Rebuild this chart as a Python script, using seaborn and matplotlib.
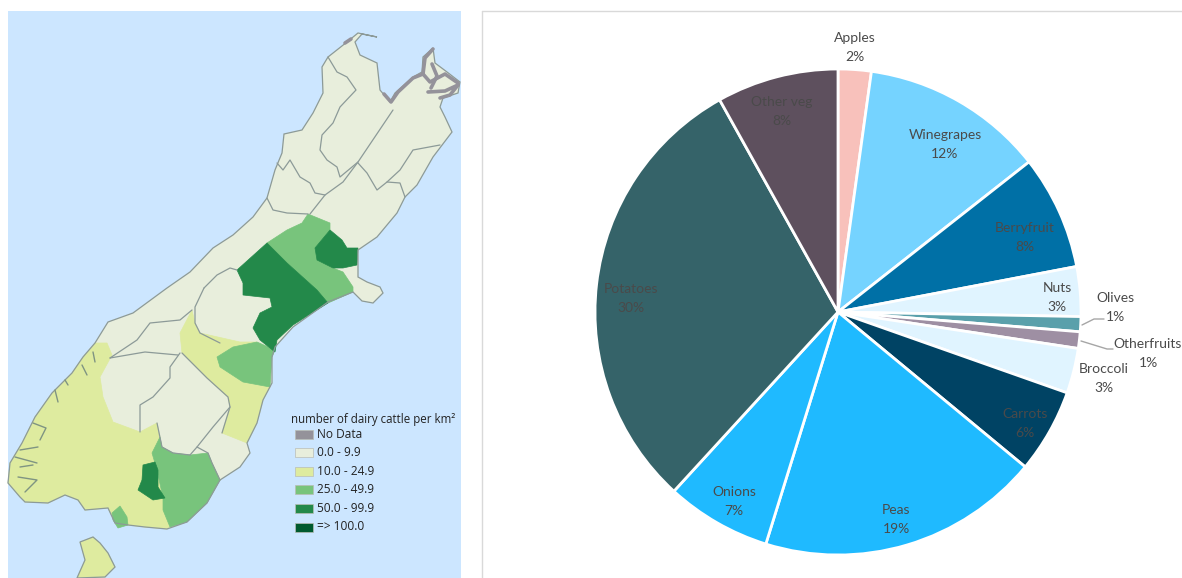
import matplotlib
matplotlib.use("Agg")
import matplotlib.pyplot as plt
from matplotlib.patches import Rectangle, Polygon
import seaborn as sns

# ---- pie data
crops = ["Apples", "Winegrapes", "Berryfruit", "Nuts", "Olives", "Otherfruits",
         "Broccoli", "Carrots", "Peas", "Onions", "Potatoes", "Other veg"]
shares = [2.2, 12.2, 7.6, 3.3, 1.0, 1.1, 3.0, 5.6, 18.8, 7.0, 30.1, 8.1]
share_labels = ["2%", "12%", "8%", "3%", "1%", "1%", "3%", "6%", "19%", "7%", "30%", "8%"]
crop_colors = ["#f8c1bb", "#75d3ff", "#0070a6", "#e0f4ff", "#5aa0ab", "#9e8fa3",
               "#e0f4ff", "#004364", "#1fbaff", "#1fbaff", "#356369", "#5e505e"]
label_xy = [(855, 38), (945, 135), (1025, 228), (1057, 288), (1115, 298), (1148, 344),
            (1104, 369), (1025, 414), (896, 510), (734, 492), (631, 289), (782, 102)]

# ---- legend data
legend_title = "number of dairy cattle per km\u00b2"
legend_names = ["No Data", "0.0 - 9.9", "10.0 - 24.9", "25.0 - 49.9", "50.0 - 99.9", "=> 100.0"]
legend_colors = ["#94929a", "#e8eedc", "#deeb9f", "#78c47c", "#23894a", "#005a2f"]
SEA, PALE, YEL, MID, DARK = "#cce6ff", legend_colors[1], legend_colors[2], legend_colors[3], legend_colors[4]
LINE = "#8c9a98"

# ---- map outlines, traced in picture pixels
coast = [(377,37),(358,33),(347,42),(328,57),(322,67),(323,93),(313,113),(302,130),(284,134),(282,153),
 (275,170),(267,198),(253,217),(233,235),(213,248),(190,272),(167,288),(133,313),(108,322),(95,343),
 (83,357),(72,373),(52,393),(35,417),(22,443),(10,463),(8,483),(20,497),(25,502),(48,503),(65,495),
 (78,500),(85,510),(108,508),(115,523),(128,525),(145,527),(167,529),(187,522),(207,503),(220,480),
 (240,467),(250,453),(247,443),(257,423),(263,400),(272,383),(272,357),(275,347),(293,327),(328,302),
 (353,292),(362,301),(373,303),(383,293),(380,287),(367,282),(358,277),(358,250),(377,237),(397,213),
 (405,197),(417,185),(433,157),(452,132),(445,117),(440,107),(443,98),(458,93),(460,82),(447,72),
 (435,63),(433,48),(423,57),(422,72),(413,77),(395,93),(390,102),(380,90),(377,63),(360,55),(355,42),(362,34)]
stewart = [(80,542),(93,537),(100,543),(108,553),(115,567),(105,577),(77,578),(85,560)]
sounds = [[(384,94),(391,102),(398,92),(413,78),(423,74)],
          [(423,74),(425,58),(433,49)],
          [(423,74),(430,82),(445,74),(458,83)],
          [(428,92),(445,91),(458,85),(450,95),(440,98)],
          [(432,64),(437,76),(431,88)],
          [(345,43),(351,39)]]
southland = [(107,343),(112,355),(100,377),(103,397),(113,422),(140,432),(157,423),(160,437),(152,453),
 (163,498),(163,510),(170,527),(167,529),(145,527),(128,525),(115,523),(108,508),(85,510),(78,500),(65,495),
 (48,503),(25,502),(20,497),(8,483),(10,463),(22,443),(35,417),(52,393),(72,373),(83,357),(95,343)]
waitaki = [(192,310),(180,333),(182,353),(207,378),(228,397),(230,407),(222,433),(247,443),(257,423),
 (263,400),(270,387),(243,382),(220,367),(217,357),(233,347),(257,342),(240,342),(200,333),(195,323)]
clutha = [(160,437),(152,453),(157,470),(163,498),(163,510),(170,527),(187,522),(207,503),(220,480),
 (212,463),(208,453),(190,455),(173,453),(162,447)]
timaru = [(257,342),(233,347),(217,357),(220,367),(243,382),(270,387),(272,357),(275,350)]
band = [(308,214),(330,223),(330,230),(315,248),(317,260),(333,268),(343,272),(353,287),(353,292),(328,303),
 (317,290),(287,263),(267,243),(287,230),(302,223)]
hurunui = [(330,230),(342,240),(347,248),(358,248),(357,265),(343,268),(333,268),(317,260),(315,248)]
selwyn = [(267,243),(237,270),(243,283),(243,295),(270,298),(272,307),(260,313),(253,328),(260,340),(275,352),
 (277,340),(293,325),(328,303),(317,290),(287,263)]
gore = [(143,465),(155,462),(158,470),(158,487),(165,498),(153,500),(138,490),(142,480)]
bluff = [(112,513),(120,506),(127,517),(128,525),(118,528),(113,520)]
borders = [
 [(328,57),(337,72),(347,77),(356,90),(340,107),(333,123),(322,135),(320,150),(327,160),(337,167),(340,177),(358,162)],
 [(393,110),(358,162),(343,182),(325,195),(310,214)],
 [(358,163),(367,173),(377,190),(387,182),(400,183),(405,197)],
 [(387,182),(400,170),(413,150),(440,145)],
 [(277,163),(283,170),(290,160),(300,177),(310,183),(315,193),(325,195)],
 [(267,198),(273,210),(287,213),(308,214)],
 [(204,288),(217,275),(230,268),(237,270)],
 [(204,288),(195,307),(195,323),(200,333),(220,343)],
 [(192,310),(180,320),(150,323),(137,340),(110,358)],
 [(180,353),(170,367),(170,378),(153,397),(140,405),(140,432)],
 [(182,353),(207,378),(228,397),(230,407),(213,427),(197,447),(190,455)],
 [(157,423),(162,447),(173,453),(190,455)],
 [(230,407),(222,433)],
 [(197,447),(208,453),(212,463),(220,480)],
 [(110,358),(145,352),(178,355)],
]
fjords = [[(93,352),(95,362)],[(82,365),(87,375)],[(65,380),(68,385)],[(55,390),(58,402)],
          [(33,423),(46,428),(40,440)],[(20,450),(38,447)],[(15,457),(37,463)],[(20,467),(33,465)],
          [(18,477),(37,480),(25,492)]]

sns.set_theme(style="white")
plt.rcParams["font.family"] = ["Lato", "DejaVu Sans"]
palette = sns.color_palette(crop_colors)

fig = plt.figure(figsize=(11.82, 5.78), dpi=100, facecolor="white")
W, H = 1182, 578
bg = fig.add_axes([0, 0, 1, 1])
bg.set_xlim(0, W); bg.set_ylim(H, 0); bg.axis("off")

# map
bg.add_patch(Rectangle((8, 11), 453, 567, fc=SEA, ec="none"))
for pts, col in [(coast, PALE), (stewart, YEL), (southland, YEL), (waitaki, YEL), (clutha, MID), (timaru, MID),
                 (band, MID), (hurunui, DARK), (selwyn, DARK), (gore, DARK), (bluff, MID)]:
    bg.add_patch(Polygon(pts, closed=True, fc=col, ec=col, lw=0.5))
for seg in borders:
    bg.plot(*zip(*seg), color=LINE, lw=0.9, solid_joinstyle="round")
for seg in fjords:
    bg.plot(*zip(*seg), color="#7f9482", lw=1.0)
for pts in (coast, stewart):
    bg.add_patch(Polygon(pts, closed=True, fc="none", ec=LINE, lw=0.9))
for seg in sounds:
    bg.plot(*zip(*seg), color=legend_colors[0], lw=2.6, solid_capstyle="round")

# map legend
bg.text(291, 420, legend_title, fontsize=8.3, color="#222222", va="center", family=["Open Sans", "DejaVu Sans"])
for i, (name, col) in enumerate(zip(legend_names, legend_colors)):
    y = 434 + i * 18.6
    bg.add_patch(Rectangle((295, y - 4.5), 18, 9, fc=col, ec="#b9bdb5", lw=0.5))
    bg.text(317, y, name, fontsize=8.6, color="#222222", va="center", family=["Open Sans", "DejaVu Sans"])

# panel frame of the pie chart
bg.plot([482, 482], [578, 11], color="#d9d9d9", lw=1)
bg.plot([482, 1182], [11, 11], color="#d9d9d9", lw=1)

# pie
cx, cy, r = 838, 312, 243
ax = fig.add_axes([(cx - r) / W, 1 - (cy + r) / H, 2 * r / W, 2 * r / H], facecolor="none")
ax.pie(shares, colors=palette, startangle=90, counterclock=False, radius=1,
       wedgeprops=dict(edgecolor="white", linewidth=2.0))
ax.set_xlim(-1, 1); ax.set_ylim(-1, 1)

# leader lines
bg.plot([1082, 1094, 1104], [325, 319, 319], color="#a6a6a6", lw=1, zorder=5)
bg.plot([1081, 1107, 1113], [341, 349, 349], color="#a6a6a6", lw=1, zorder=5)
bg.set_zorder(ax.get_zorder() + 1); bg.patch.set_alpha(0)

# pie labels
for name, pct, (x, y) in zip(crops, share_labels, label_xy):
    bg.text(x, y, name, fontsize=10, color="#4a4a4a", ha="center", va="center", zorder=6)
    bg.text(x, y + 19, pct, fontsize=10, color="#4a4a4a", ha="center", va="center", zorder=6)

fig.savefig("out.png", dpi=100)
